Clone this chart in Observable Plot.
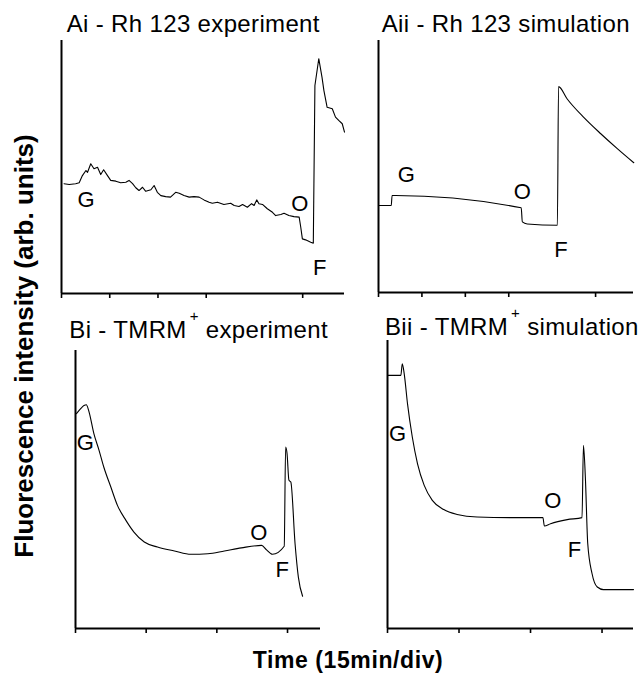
<!DOCTYPE html>
<html><head><meta charset="utf-8">
<script src="https://cdn.jsdelivr.net/npm/d3@7"></script>
<script src="https://cdn.jsdelivr.net/npm/@observablehq/plot@0.6"></script>
<style>
body{margin:0;background:#fff;}
#wrap{position:relative;width:641px;height:673px;overflow:hidden;font-family:"Liberation Sans",Arial,sans-serif;}
#wrap > svg{position:absolute;}
</style></head><body><div id="wrap"></div>
<script>
// ---- Data (time in minutes, fluorescence in arbitrary units 0-100 per panel) ----
const aiTime   = [0.8, 2.4, 4.4, 5.5, 6.5, 7.6, 8.1, 9.1, 10.1, 11.2, 12.2, 13.1, 14.3, 15.3, 16.9, 18.4, 20.0, 21.0, 22.1, 23.1, 24.1, 25.2, 26.2, 27.8, 28.8, 29.8, 30.9, 32.4, 33.9, 35.5, 36.6, 38.1, 39.7, 41.2, 42.8, 44.3, 45.9, 46.9, 48.5, 50.5, 52.6, 53.7, 55.2, 56.3, 57.8, 59.1, 59.9, 60.7, 61.4, 62.5, 64.0, 65.6, 66.6, 68.2, 69.2, 70.7, 72.3, 73.9, 74.4, 74.9, 75.9, 77.5, 78.3, 78.8, 80.0, 81.0, 81.6, 82.6, 84.2, 85.2, 86.2, 87.3, 88.0];
const aiSignal = [43.4, 43.1, 43.4, 43.8, 46.6, 48.6, 47.9, 51.3, 49.3, 49.9, 47.0, 48.9, 46.6, 44.7, 44.4, 43.8, 44.0, 44.7, 43.4, 41.8, 40.7, 42.0, 40.4, 41.0, 42.7, 40.0, 38.7, 38.3, 38.1, 40.0, 39.6, 38.7, 38.1, 38.3, 38.1, 37.0, 36.1, 35.7, 36.1, 35.2, 35.7, 34.8, 34.4, 35.2, 34.1, 35.5, 34.8, 37.0, 35.5, 35.2, 33.5, 32.1, 30.8, 31.2, 31.7, 30.8, 30.4, 30.2, 26.2, 21.6, 21.2, 20.3, 19.9, 82.2, 92.8, 85.5, 80.2, 73.6, 73.0, 69.7, 68.4, 67.1, 63.8];

const aiiTime   = [0.1, 4.4, 4.7, 5.9, 49.3, 49.7, 51.4, 61.8, 62.2, 65.2, 71.0, 76.7, 82.5, 88.2];
const aiiSignal = [34.5, 34.5, 38.5, 38.5, 33.6, 28.0, 27.2, 26.7, 81.7, 76.8, 69.4, 63.1, 57.1, 51.5];

const biTime   = [0.2, 1.1, 1.8, 2.3, 2.8, 3.9, 5.0, 6.0, 7.5, 8.9, 10.7, 12.4, 14.6, 17.4, 21.0, 24.5, 28.1, 31.6, 35.2, 39.5, 40.5, 41.8, 44.3, 44.6, 44.9, 45.3, 45.7, 46.6, 47.3, 48.2];
const biSignal = [77.3, 79.1, 80.2, 80.5, 78.4, 70.1, 64.1, 58.1, 50.9, 44.3, 38.9, 34.7, 31.1, 29.3, 27.9, 26.7, 26.9, 27.9, 29.0, 29.9, 28.4, 26.7, 29.6, 65.3, 62.9, 53.3, 52.7, 30.5, 18.5, 11.6];

const biiTime   = [0, 2.8, 3.1, 3.5, 4.2, 5.2, 6.3, 7.7, 9.4, 11.8, 14.6, 18.8, 27.2, 32.6, 32.9, 34.2, 37.7, 40.8, 41.1, 41.5, 42.0, 42.9, 44.0, 45.3, 51.6];
const biiSignal = [87.9, 87.9, 91.9, 88.5, 78.0, 66.5, 57.2, 49.7, 44.5, 41.3, 39.6, 38.7, 38.5, 38.5, 35.6, 36.4, 37.8, 38.5, 63.6, 52.6, 29.5, 19.1, 14.4, 13.5, 13.5];

// Event labels (G = glucose, O = oligomycin, F = FCCP) at [time, signal]
const eventNames = ["G", "O", "F"];
const aiEvents  = [[7.6, 36.8], [74.1, 35.5], [80.3, 10.2]];
const aiiEvents = [[9.6, 46.6], [49.7, 40.0], [63.0, 17.0]];
const biEvents  = [[2.1, 66.7], [38.9, 34.4], [43.9, 20.9]];
const biiEvents = [[2.1, 67.6], [34.7, 44.3], [39.2, 27.4]];

const aTicks = [0, 15, 30, 45, 75];
const bTicks = [0, 15, 30, 45];

const titles = ["Ai - Rh 123 experiment", "Aii - Rh 123 simulation", "Bi - TMRM|+| experiment", "Bii - TMRM|+| simulation"];
const yLabel = "Fluorescence intensity (arb. units)";
const xLabel = "Time (15min/div)";

// ---- Build ----
const zip = (t, v) => t.map((d, i) => ({t: d, v: v[i]}));
const ev = (arr) => arr.map((d, i) => ({t: d[0], v: d[1], name: eventNames[i]}));

const panels = [
  {data: zip(aiTime, aiSignal),   events: ev(aiEvents),  xMax: 88,   ticks: aTicks, curve: "linear",
   left: 0,   top: 0,   width: 350, height: 300, mL: 61, mR: 6,  mT: 40, mB: 7,  title: titles[0], tx: 66.7, ty: 31.7},
  {data: zip(aiiTime, aiiSignal), events: ev(aiiEvents), xMax: 88.1, ticks: aTicks, curve: "monotone-x",
   left: 350, top: 0,   width: 291, height: 300, mL: 28, mR: 8,  mT: 40, mB: 8,  title: titles[1], tx: 381.7, ty: 31.7},
  {data: zip(biTime, biSignal),   events: ev(biEvents),  xMax: 52,   ticks: bTicks, curve: "monotone-x",
   left: 0,   top: 300, width: 330, height: 340, mL: 75, mR: 10, mT: 50, mB: 12, title: titles[2], tx: 69.3, ty: 338.3},
  {data: zip(biiTime, biiSignal), events: ev(biiEvents), xMax: 51.6, ticks: bTicks, curve: "monotone-x",
   left: 350, top: 300, width: 291, height: 340, mL: 37, mR: 8,  mT: 40, mB: 12, title: titles[3], tx: 385, ty: 335}
];

const wrap = document.getElementById("wrap");

for (const p of panels) {
  const svg = Plot.plot({
    width: p.width, height: p.height,
    marginLeft: p.mL, marginRight: p.mR, marginTop: p.mT, marginBottom: p.mB,
    style: {background: "transparent", fontFamily: "'Liberation Sans', Arial, sans-serif", overflow: "visible"},
    x: {domain: [0, p.xMax]},
    y: {domain: [0, 100], axis: null},
    marks: [
      Plot.axisX({ticks: p.ticks, tickSize: 5, strokeWidth: 1.6, tickFormat: () => "", label: null}),
      Plot.ruleX([0], {stroke: "black", strokeWidth: 2}),
      Plot.ruleY([0], {stroke: "black", strokeWidth: 2}),
      Plot.line(p.data, {x: "t", y: "v", stroke: "black", strokeWidth: 1.1, curve: p.curve}),
      Plot.text(p.events, {x: "t", y: "v", text: "name", fontSize: 22, fill: "black"})
    ]
  });
  svg.style.left = p.left + "px";
  svg.style.top = p.top + "px";
  wrap.appendChild(svg);
}

// ---- Overlay text: titles and axis labels ----
const ov = d3.select(wrap).append("svg")
  .attr("width", 641).attr("height", 673)
  .style("left", "0px").style("top", "0px")
  .style("pointer-events", "none")
  .style("font-family", "'Liberation Sans', Arial, sans-serif");

for (const p of panels) {
  const parts = p.title.split("|");
  const t = ov.append("text").attr("x", p.tx).attr("y", p.ty)
    .attr("font-size", 24).attr("letter-spacing", "0.35px").attr("fill", "black");
  t.append("tspan").text(parts[0]);
  if (parts.length > 1) {
    t.append("tspan").attr("font-size", 15).attr("dy", -17).attr("dx", 3).text(parts[1]);
    t.append("tspan").attr("dy", 17).text(parts[2]);
  }
}

ov.append("text")
  .attr("transform", "translate(33,346) rotate(-90)")
  .attr("text-anchor", "middle")
  .attr("font-size", 26).attr("font-weight", "bold").attr("fill", "black")
  .text(yLabel);

ov.append("text")
  .attr("x", 348).attr("y", 668)
  .attr("text-anchor", "middle")
  .attr("font-size", 23).attr("font-weight", "bold").attr("letter-spacing", "0.6px").attr("fill", "black")
  .text(xLabel);
</script>
</body></html>
